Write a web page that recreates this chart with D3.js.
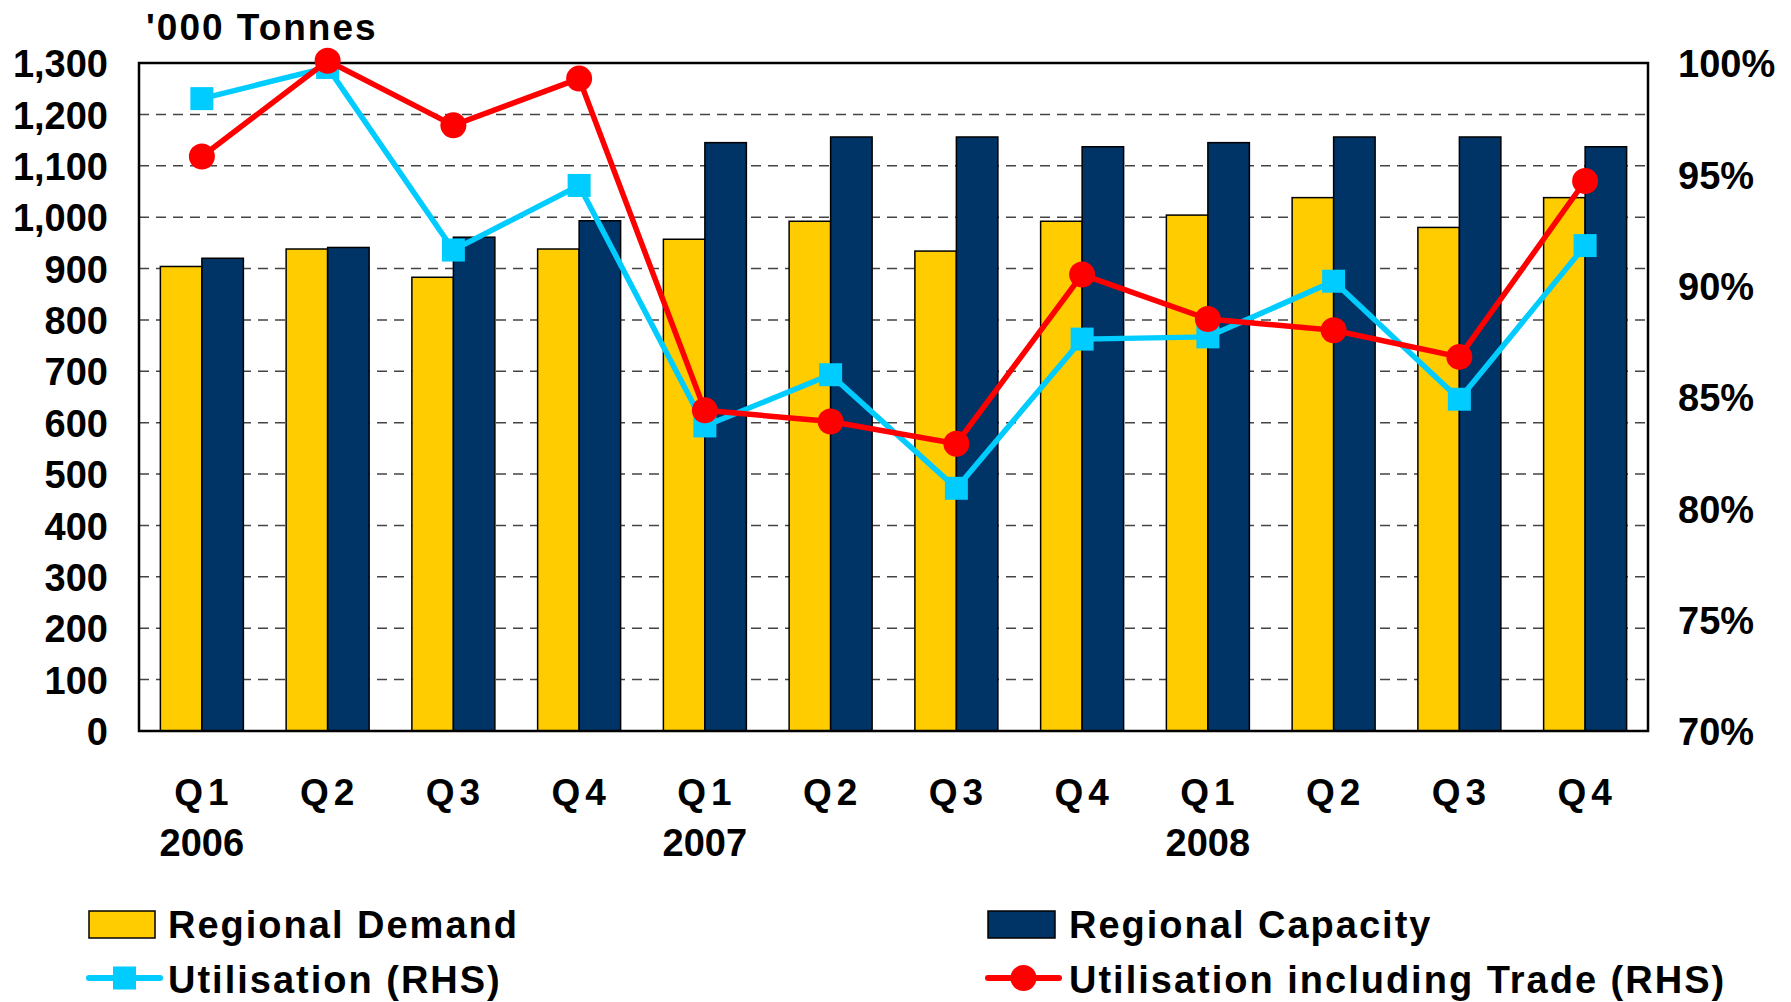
<!DOCTYPE html>
<html><head><meta charset="utf-8">
<script src="https://cdn.jsdelivr.net/npm/d3@7"></script>
<style>
body{margin:0;background:#fff;}
svg text{font-family:"Liberation Sans",Arial,sans-serif;font-weight:bold;fill:#000;}
</style></head><body>
<svg id="c" width="1791" height="1002"></svg>
<script>
const quarters = ["Q1","Q2","Q3","Q4","Q1","Q2","Q3","Q4","Q1","Q2","Q3","Q4"];
const years = ["2006","","","","2007","","","","2008","","",""];
const demand = [904, 938, 883, 938, 957, 992, 934, 992, 1004, 1038, 980, 1038];
const capacity = [920, 941, 961, 993, 1145, 1156, 1156, 1137, 1145, 1156, 1156, 1137];
const utilisation = [98.4, 99.8, 91.6, 94.5, 83.7, 86.0, 80.9, 87.6, 87.7, 90.2, 84.9, 91.8];
const utilTrade = [95.8, 100.1, 97.2, 99.3, 84.4, 83.9, 82.9, 90.5, 88.5, 88.0, 86.8, 94.7];
const leftTicks = [0,100,200,300,400,500,600,700,800,900,1000,1100,1200,1300];
const rightTicks = [70,75,80,85,90,95,100];
const legendLabels = ["Regional Demand","Regional Capacity","Utilisation (RHS)","Utilisation including Trade (RHS)"];

const C = {yellow:"#FFCC00", navy:"#003366", cyan:"#00CCFF", red:"#FF0000"};
const L = 139, R = 1648, T = 63, B = 731;
const svg = d3.select("#c");

const x = d3.scaleBand().domain(d3.range(quarters.length)).range([L, R]).padding(0);
const y = d3.scaleLinear().domain([0,1300]).range([B, T]);
const y2 = d3.scaleLinear().domain([70,100]).range([B, T]);
const bw = x.bandwidth()*0.33;
const cx = i => x(i) + x.bandwidth()/2;

// gridlines
svg.append("g").selectAll("line").data(leftTicks.filter(d=>d>0 && d<1300)).join("line")
  .attr("x1", L).attr("x2", R).attr("y1", d=>y(d)).attr("y2", d=>y(d))
  .attr("stroke","#444").attr("stroke-width",1.5).attr("stroke-dasharray","10,7");

// bars
svg.append("g").selectAll("rect").data(demand).join("rect")
  .attr("x",(d,i)=>cx(i)-bw).attr("width",bw).attr("y",d=>y(d)).attr("height",d=>B-y(d))
  .attr("fill",C.yellow).attr("stroke","#000").attr("stroke-width",1.5);
svg.append("g").selectAll("rect").data(capacity).join("rect")
  .attr("x",(d,i)=>cx(i)).attr("width",bw).attr("y",d=>y(d)).attr("height",d=>B-y(d))
  .attr("fill",C.navy).attr("stroke","#000").attr("stroke-width",1.5);

// border
svg.append("rect").attr("x",L).attr("y",T).attr("width",R-L).attr("height",B-T)
  .attr("fill","none").attr("stroke","#000").attr("stroke-width",2.5);

// lines
const line = d3.line().x((d,i)=>cx(i)).y(d=>y2(d));
svg.append("path").datum(utilisation).attr("d",line).attr("fill","none").attr("stroke",C.cyan).attr("stroke-width",5.5);
svg.append("g").selectAll("rect").data(utilisation).join("rect")
  .attr("x",(d,i)=>cx(i)-11.5).attr("y",d=>y2(d)-11.5).attr("width",23).attr("height",23).attr("fill",C.cyan);
svg.append("path").datum(utilTrade).attr("d",line).attr("fill","none").attr("stroke",C.red).attr("stroke-width",5.5);
svg.append("g").selectAll("circle").data(utilTrade).join("circle")
  .attr("cx",(d,i)=>cx(i)).attr("cy",d=>y2(d)).attr("r",13).attr("fill",C.red);

// left axis
const la = svg.append("g").attr("transform",`translate(${L},0)`)
  .call(d3.axisLeft(y).tickValues(leftTicks).tickFormat(d3.format(",")).tickSize(0).tickPadding(31));
la.select(".domain").remove();
la.selectAll("text").style("font-size","38px").attr("dy","0.36em");

// right axis
const ra = svg.append("g").attr("transform",`translate(${R},0)`)
  .call(d3.axisRight(y2).tickValues(rightTicks).tickFormat(d=>d+"%").tickSize(0).tickPadding(30));
ra.select(".domain").remove();
ra.selectAll("text").style("font-size","38px").attr("dy","0.36em");

// x labels
svg.append("g").selectAll("text").data(quarters).join("text")
  .attr("x",(d,i)=>cx(i)+2).attr("y",805).attr("text-anchor","middle")
  .style("font-size","37px").style("letter-spacing","5px").text(d=>d);
svg.append("g").selectAll("text").data(years).join("text")
  .attr("x",(d,i)=>cx(i)).attr("y",856).attr("text-anchor","middle")
  .style("font-size","38px").text(d=>d);

// title
svg.append("text").attr("x",146).attr("y",40).style("font-size","37px").style("letter-spacing","2px").text("'000 Tonnes");

// legend
const lg = svg.append("g");
const lx = [89, 988], ly = [924, 978];
lg.append("rect").attr("x",lx[0]).attr("y",ly[0]-13).attr("width",66).attr("height",27).attr("fill",C.yellow).attr("stroke","#000").attr("stroke-width",1.5);
lg.append("rect").attr("x",lx[1]).attr("y",ly[0]-13).attr("width",67).attr("height",27).attr("fill",C.navy).attr("stroke","#000").attr("stroke-width",1.5);
lg.append("line").attr("x1",lx[0]).attr("x2",lx[0]+71).attr("y1",ly[1]).attr("y2",ly[1]).attr("stroke",C.cyan).attr("stroke-width",6).attr("stroke-linecap","round");
lg.append("rect").attr("x",lx[0]+35.5-11.5).attr("y",ly[1]-11.5).attr("width",23).attr("height",23).attr("fill",C.cyan);
lg.append("line").attr("x1",lx[1]).attr("x2",lx[1]+71).attr("y1",ly[1]).attr("y2",ly[1]).attr("stroke",C.red).attr("stroke-width",6).attr("stroke-linecap","round");
lg.append("circle").attr("cx",lx[1]+35.5).attr("cy",ly[1]).attr("r",13).attr("fill",C.red);
const lpos = [[168,938],[1069,938],[168,993],[1069,993]];
lg.selectAll("text").data(legendLabels).join("text")
  .attr("x",(d,i)=>lpos[i][0]).attr("y",(d,i)=>lpos[i][1])
  .style("font-size","38px").style("letter-spacing","2px").text(d=>d);
</script></body></html>
